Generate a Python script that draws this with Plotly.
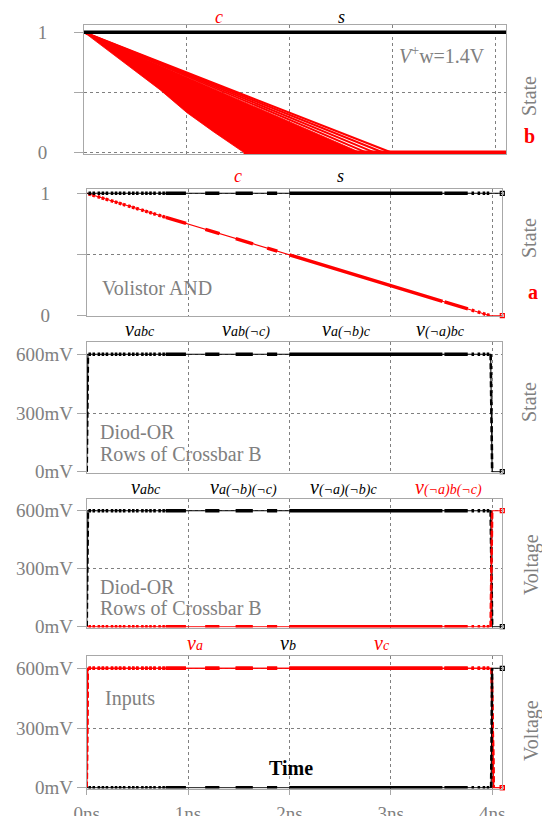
import math
import plotly.graph_objects as go

W, H = 542, 816
FONT = "Liberation Serif"
GREY = "#808080"
FRAME = "#a8a8a8"
RED = "#ff0000"
BLACK = "#000000"

# ------------------------------------------------------------------ data
T_MAX = 4.1  # ns, end of the simulated window

# Panel 1  (V+w = 1.4V): state s and the fan of state-c trajectories
p1_s_t = [0.0, 4.1]
p1_s_v = [1.0, 1.0]
p1_c_start = (0.0, 1.0)
p1_c_strand_end_t = [2.74, 2.82, 2.90, 2.98]          # separated upper trajectories reach 0
p1_c_body_t = [0.0, 2.68, 1.55, 1.26, 1.00, 0.74, 0.0]  # envelope of the dense bundle
p1_c_body_v = [1.0, 0.00, 0.00, 0.17, 0.33, 0.52, 1.0]
p1_c_floor_t = [1.55, 4.1]
p1_c_floor_v = [0.0, 0.0]

# Panel 2  (Volistor AND)
p2_s_t = [0.0, 4.1]
p2_s_v = [1.0, 1.0]
p2_c_t = [0.0, 3.98, 4.1]
p2_c_v = [1.0, 0.0, 0.0]

# Panel 3  (Diod-OR rows: v_abc, v_ab(¬c), v_a(¬b)c, v_(¬a)bc all coincide), mV
p3_rows_t = [0.0, 0.012, 3.985, 4.0, 4.1]
p3_rows_v = [0, 600, 600, 0, 0]

# Panel 4, mV
p4_black_t = [0.0, 0.012, 3.985, 4.0, 4.1]
p4_black_v = [0, 600, 600, 0, 0]
p4_red_t = [0.0, 3.985, 4.0, 4.1]
p4_red_v = [0, 0, 600, 600]

# Panel 5 (inputs), mV
va_t = [0.0, 0.01, 3.995, 4.015, 4.1]
va_v = [0, 600, 600, 0, 0]
vb_t = [0.0, 3.99, 4.0, 4.1]
vb_v = [0, 0, 600, 600]
vc_t = [0.0, 0.01, 3.995, 4.015, 4.1]
vc_v = [0, 600, 600, 0, 0]

# simulator sample points (ns): isolated samples and dense stretches
sample_dots = [0.03, 0.07, 0.12, 0.16, 0.20, 0.25, 0.29, 0.33, 0.37, 0.42, 0.46,
               0.50, 0.55, 0.59, 0.63, 0.67, 0.72, 0.76, 3.81, 3.87, 3.92, 3.96]
sample_spans = [(0.78, 0.98), (1.17, 1.31), (1.47, 1.64), (1.78, 1.88),
                (2.00, 3.51), (3.53, 3.76)]

x_ticks = [0, 1, 2, 3, 4]
x_tick_text = ["0ns", "1ns", "2ns", "3ns", "4ns"]
state_ticks = [0, 1]
state_tick_text = ["0", "1"]
state_mid_grid = [0.5]
mv_ticks = [0, 300, 600]
mv_tick_text = ["0mV", "300mV", "600mV"]

# ------------------------------------------------------------------ geometry (window px)
panels = {
    1: dict(left=84.0, right=506.0, top=25.0, bottom=154.0, hi=(1.0, 32.3), lo=(0.0, 152.3)),
    2: dict(left=86.7, right=502.3, top=189.3, bottom=316.3, hi=(1.0, 193.3), lo=(0.0, 315.7)),
    3: dict(left=86.7, right=502.3, top=342.3, bottom=472.5, hi=(600, 354.3), lo=(0, 471.7)),
    4: dict(left=86.7, right=502.3, top=499.3, bottom=627.5, hi=(600, 510.7), lo=(0, 626.7)),
    5: dict(left=86.7, right=502.3, top=655.7, bottom=788.5, hi=(600, 668.3), lo=(0, 787.7)),
}


def fx(x):
    return x / W


def fy(y):
    return 1 - y / H


for k, p in panels.items():
    (vh, ph), (vl, pl) = p["hi"], p["lo"]
    p["sy"] = (pl - ph) / (vh - vl)
    p["yr"] = [vl - (p["bottom"] - pl) / p["sy"], vh + (ph - p["top"]) / p["sy"]]
    p["sx"] = (p["right"] - p["left"]) / T_MAX

fig = go.Figure()


def ax(k):
    return ("x" if k == 1 else f"x{k}"), ("y" if k == 1 else f"y{k}")


def line(k, t, v, color, width, dash=None, mode="lines", **kw):
    xa, ya = ax(k)
    ln = dict(color=color, width=width)
    if dash:
        ln["dash"] = dash
    fig.add_trace(go.Scatter(x=t, y=v, mode=mode, line=ln, xaxis=xa, yaxis=ya,
                             showlegend=False, hoverinfo="skip", **kw))


def sample_dash(t0, t1, px_per_ns, dot_w=0.025):
    marks = [(d - dot_w / 2, d + dot_w / 2) for d in sample_dots] + list(sample_spans)
    marks.sort()
    seq = [0.0]
    cur = t0
    for a, b in marks:
        a = max(a, cur)
        b = min(b, t1)
        if b <= a:
            continue
        seq += [(a - cur) * px_per_ns, (b - a) * px_per_ns]
        cur = b
    seq.append((t1 - cur) * px_per_ns + 3000)
    return ",".join(f"{s:.2f}px" for s in seq)


def series(k, t, v, color, end_marker=True):
    p = panels[k]
    line(k, t, v, color, 1.1)
    for i in range(len(t) - 1):
        t0, t1, v0, v1 = t[i], t[i + 1], v[i], v[i + 1]
        dt = t1 - t0
        if dt < 0.05:
            if v0 != v1:
                line(k, [t0, t1], [v0, v1], color, 2.6, dash="6px,3px")
        else:
            L = math.hypot(dt * p["sx"], (v1 - v0) * p["sy"])
            line(k, [t0, t1], [v0, v1], color, 3.4, dash=sample_dash(t0, t1, L / dt))
    if end_marker:
        xa, ya = ax(k)
        fig.add_trace(go.Scatter(x=[t[-1]], y=[v[-1]], mode="markers",
                                 marker=dict(symbol="square-open", size=4, color=color,
                                             line=dict(width=1.2, color=color)),
                                 xaxis=xa, yaxis=ya, showlegend=False, hoverinfo="skip",
                                 cliponaxis=False))


# ---- panel 1
fig.add_trace(go.Scatter(x=p1_c_body_t, y=p1_c_body_v, mode="lines", fill="toself",
                         fillcolor=RED, line=dict(color=RED, width=0.8),
                         xaxis="x", yaxis="y", showlegend=False, hoverinfo="skip"))
for te in p1_c_strand_end_t:
    line(1, [p1_c_start[0], te], [p1_c_start[1], 0.0], RED, 2.0)
line(1, p1_c_floor_t, p1_c_floor_v, RED, 3.4)
line(1, p1_s_t, p1_s_v, BLACK, 3.4)

# ---- panel 2
series(2, p2_c_t, p2_c_v, RED)
series(2, p2_s_t, p2_s_v, BLACK)

# ---- panel 3
series(3, p3_rows_t, p3_rows_v, BLACK)

# ---- panel 4
series(4, p4_black_t, p4_black_v, BLACK)
series(4, p4_red_t, p4_red_v, RED)

# ---- panel 5
series(5, vc_t, vc_v, RED)
series(5, va_t, va_v, RED)
series(5, vb_t, vb_v, BLACK)

# ------------------------------------------------------------------ axes
layout = dict(width=W, height=H, autosize=False,
              margin=dict(l=0, r=0, t=0, b=0, pad=0, autoexpand=False),
              paper_bgcolor="white", plot_bgcolor="white",
              font=dict(family=FONT, color=GREY, size=19))
for k, p in panels.items():
    xa = "xaxis" if k == 1 else f"xaxis{k}"
    ya = "yaxis" if k == 1 else f"yaxis{k}"
    last = k == 5
    layout[xa] = dict(domain=[fx(p["left"]), fx(p["right"])], range=[0, T_MAX],
                      anchor=ax(k)[1], showgrid=True, gridcolor=GREY, gridwidth=1,
                      griddash="3px,3px", tickvals=x_ticks, ticktext=x_tick_text,
                      showticklabels=last, ticks="outside" if last else "",
                      ticklen=5, tickcolor=FRAME, zeroline=False, automargin=False,
                      showline=True, mirror=True, linecolor=FRAME, linewidth=1,
                      tickfont=dict(family=FONT, size=19, color=GREY),
                      ticklabelstandoff=3)
    yd = dict(domain=[fy(p["bottom"]), fy(p["top"])], range=p["yr"],
              anchor=ax(k)[0], showgrid=True, gridcolor=GREY, gridwidth=1,
              griddash="3px,3px", ticks="outside",
              ticklen=9, tickcolor=FRAME, zeroline=False, automargin=False,
              showline=True, mirror=True, linecolor=FRAME, linewidth=1,
              tickfont=dict(family=FONT, size=19, color=GREY))
    if k <= 2:
        yd.update(tickvals=state_ticks, ticktext=state_tick_text, ticklabelstandoff=23,
                  minor=dict(tickvals=state_mid_grid, showgrid=True, gridcolor=GREY,
                             gridwidth=1, griddash="3px,3px", ticks="outside",
                             ticklen=9, tickcolor=FRAME))
    else:
        yd.update(tickvals=mv_ticks, ticktext=mv_tick_text, ticklabelstandoff=0)
    layout[ya] = yd
fig.update_layout(**layout)

# ------------------------------------------------------------------ text
def ann(text, x, y, size=20, color=GREY, xanchor="center", angle=0):
    fig.add_annotation(text=text, x=fx(x), y=fy(y), xref="paper", yref="paper",
                       showarrow=False, xanchor=xanchor, yanchor="middle",
                       textangle=angle, font=dict(family=FONT, size=size, color=color))


def vlab(sub, x, y, color=BLACK):
    ann(f"<i>v</i><span style='font-size:14px'><i>{sub}</i></span>", x, y, 20, color)


# panel 1
ann("<i>c</i>", 219, 17, 18, RED)
ann("<i>s</i>", 341, 17, 18, BLACK)
ann("<i>V</i><sup>+</sup>w=1.4V", 397, 55, 20, GREY, xanchor="left")
ann("State", 529, 96, 20, GREY, angle=-90)
ann("<b>b</b>", 529, 136, 20, RED)
# panel 2
ann("<i>c</i>", 238, 176, 18, RED)
ann("<i>s</i>", 340, 176, 18, BLACK)
ann("Volistor AND", 100, 288, 20, GREY, xanchor="left")
ann("State", 529, 238, 20, GREY, angle=-90)
ann("<b>a</b>", 533, 292, 20, RED)
# panel 3
vlab("abc", 140, 329)
vlab("ab(¬c)", 246, 329)
vlab("a(¬b)c", 346, 329)
vlab("(¬a)bc", 440, 329)
ann("Diod-OR", 98, 432, 20, GREY, xanchor="left")
ann("Rows of Crossbar B", 98, 454, 20, GREY, xanchor="left")
ann("State", 529, 402, 20, GREY, angle=-90)
# panel 4
vlab("abc", 146, 487)
vlab("a(¬b)(¬c)", 243, 487)
vlab("(¬a)(¬b)c", 343, 487)
vlab("(¬a)b(¬c)", 448, 487, RED)
ann("Diod-OR", 98, 587, 20, GREY, xanchor="left")
ann("Rows of Crossbar B", 98, 608, 20, GREY, xanchor="left")
ann("Voltage", 531, 565, 20, GREY, angle=-90)
# panel 5
vlab("a", 195, 643, RED)
vlab("b", 288, 643)
vlab("c", 382, 643, RED)
ann("Inputs", 103, 698, 20, GREY, xanchor="left")
ann("<b>Time</b>", 291, 768, 20, BLACK)
ann("Voltage", 531, 731, 20, GREY, angle=-90)

fig.write_html(
    "out.html",
    config={"displayModeBar": False},
    post_script="document.documentElement.style.overflow='hidden';"
                "document.body.style.margin='0';document.body.style.overflow='hidden';",
)
